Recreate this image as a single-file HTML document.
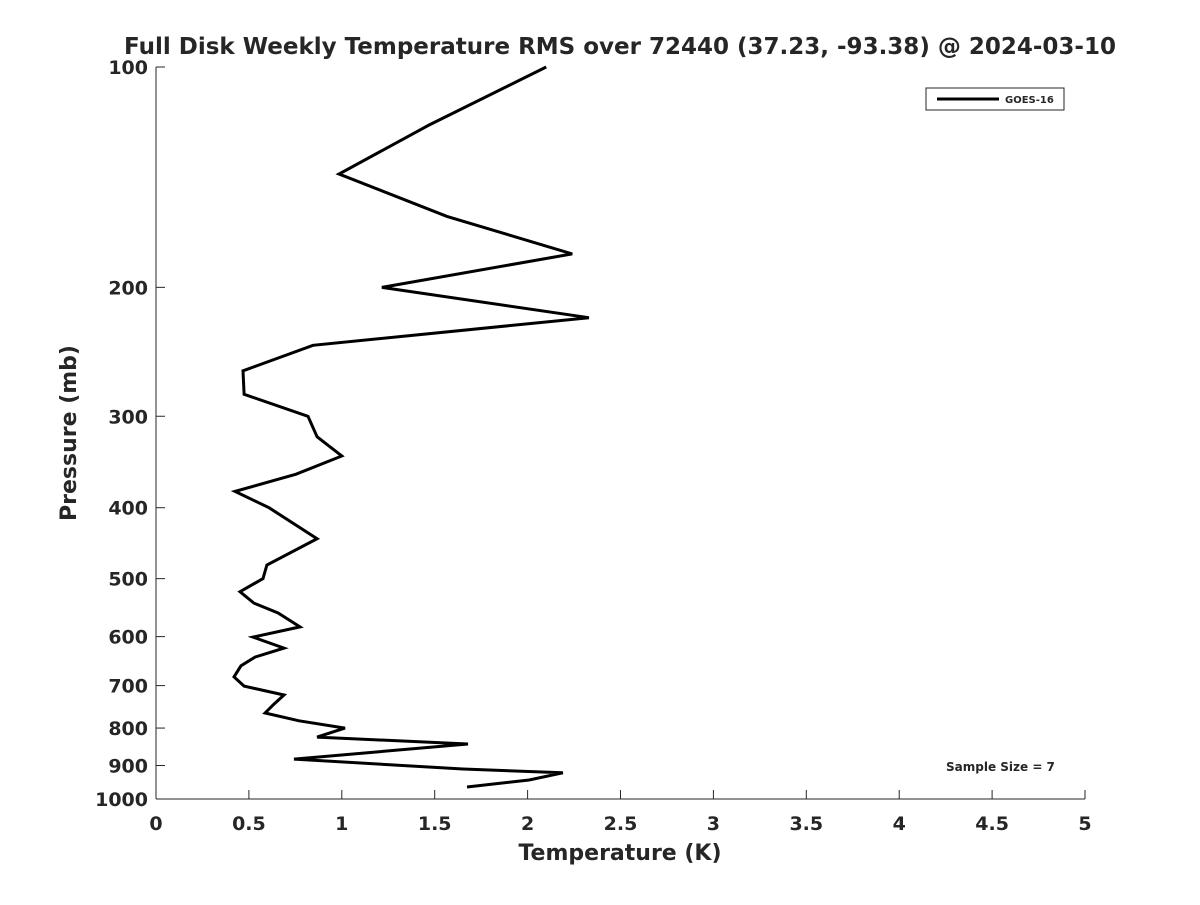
<!DOCTYPE html>
<html><head><meta charset="utf-8"><style>
body{margin:0;background:#fff;font-family:"Liberation Sans","DejaVu Sans",sans-serif}
svg text{font-family:"DejaVu Sans","Liberation Sans",sans-serif;font-weight:bold;fill:#262626}
</style></head><body>
<svg width="1200" height="900" id="c">
<rect width="1200" height="900" fill="#fff"/>
</svg>
<script>
const temps=[2.10,1.47,0.985,1.566,2.24,1.216,2.33,0.845,0.468,0.474,0.818,0.867,1.0,0.754,0.425,0.608,0.867,0.597,0.576,0.452,0.527,0.657,0.775,0.522,0.689,0.533,0.457,0.42,0.474,0.689,0.635,0.587,0.77,1.017,0.867,1.679,0.743,1.652,2.19,2.008,1.674];
const pressures=[100,120,140,160,180,200,220,240,260,280,300,320,340,360,380,400,441,479,500,521,540,557,582,601,622,640,658,681,701,721,742,763,782,800,823,841,882,910,921,942,963];
const xTicks=[0,0.5,1,1.5,2,2.5,3,3.5,4,4.5,5];
const yTicks=[100,200,300,400,500,600,700,800,900,1000];
const NS="http://www.w3.org/2000/svg",svg=document.getElementById('c');
const X0=156,X1=1085,Y0=67,Y1=799;
const xs=v=>X0+(v/5)*(X1-X0);
const ys=p=>Y0+(Math.log10(p)-2)*(Y1-Y0);
function mk(t,a,txt){const e=document.createElementNS(NS,t);for(const k in a)e.setAttribute(k,a[k]);if(txt!==undefined)e.textContent=txt;svg.appendChild(e);return e;}
let e;
e=mk('line',{x1:X0,y1:Y0,x2:X0,y2:Y1,stroke:'#262626','stroke-width':1});


e=mk('line',{x1:X0,y1:Y1,x2:X1,y2:Y1,stroke:'#262626','stroke-width':1});


xTicks.forEach(v=>{const x=xs(v);
e=mk('line',{x1:x,y1:Y1,x2:x,y2:Y1-9,stroke:'#262626'});


e=mk('text',{x:x,y:Y1+31,'text-anchor':'middle','font-size':19},String(v));

});
yTicks.forEach(p=>{const y=ys(p);
e=mk('line',{x1:X0,y1:y,x2:X0+9,y2:y,stroke:'#262626'});


e=mk('text',{x:X0-8,y:y+7,'text-anchor':'end','font-size':19},String(p));

});
const pts=temps.map((t,i)=>xs(t).toFixed(1)+','+ys(pressures[i]).toFixed(1)).join(' ');
e=mk('polyline',{points:pts,fill:'none',stroke:'#000','stroke-width':3,'stroke-linejoin':'miter'});


e=mk('text',{x:620,y:54,'text-anchor':'middle','font-size':23},'Full Disk Weekly Temperature RMS over 72440 (37.23, -93.38) @ 2024-03-10');


e=mk('text',{x:620,y:860,'text-anchor':'middle','font-size':22},'Temperature (K)');


e=mk('text',{x:0,y:0,'text-anchor':'middle','font-size':22,transform:'translate(76,433) rotate(-90)'},'Pressure (mb)');


e=mk('rect',{x:926,y:88,width:138,height:22,fill:'#fff',stroke:'#262626','stroke-width':1});


e=mk('line',{x1:937,y1:99,x2:999,y2:99,stroke:'#000','stroke-width':3});


e=mk('text',{x:1005,y:103,'font-size':10,fill:'#000'},'GOES-16');


e=mk('text',{x:946,y:771,'font-size':12},'Sample Size = 7');


</script>
</body></html>
